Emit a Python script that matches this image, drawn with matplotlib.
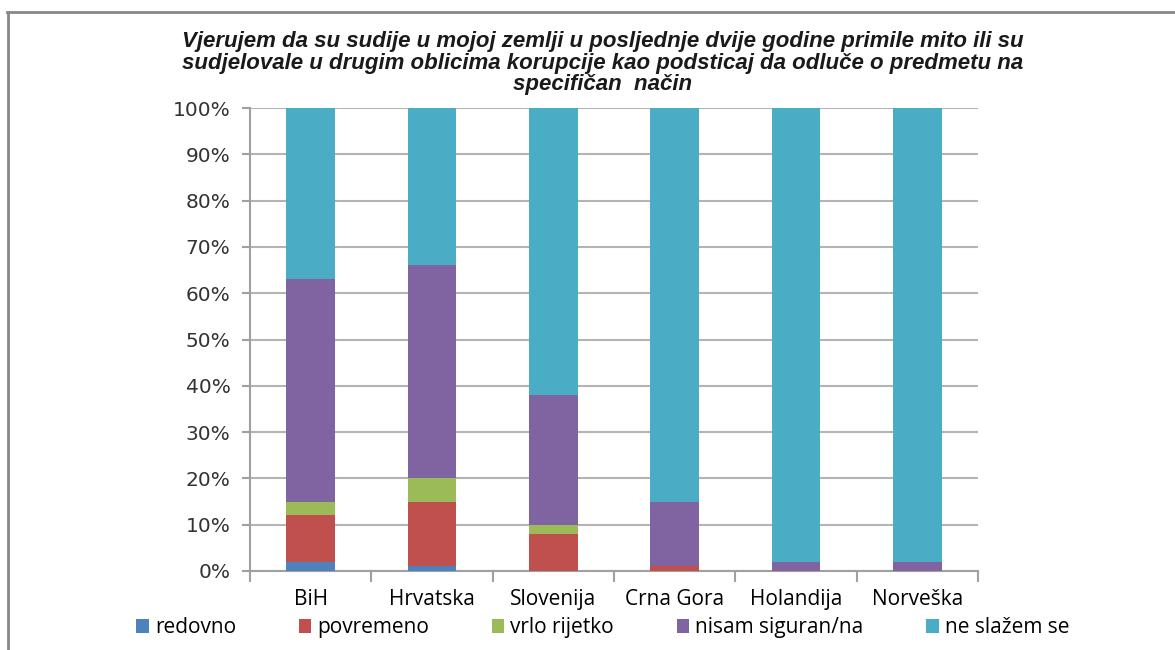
import numpy as np
import matplotlib
matplotlib.use('Agg')
import matplotlib.pyplot as plt
from matplotlib.lines import Line2D
from matplotlib.ticker import FixedLocator, PercentFormatter

# data (percent)
countries = ['BiH', 'Hrvatska', 'Slovenija', 'Crna Gora', 'Holandija', 'Norveška']
series = ['redovno', 'povremeno', 'vrlo rijetko', 'nisam siguran/na', 'ne slažem se']
redovno = [2, 1, 0, 0, 0, 0]
povremeno = [10, 14, 8, 1, 0, 0]
vrlo_rijetko = [3, 5, 2, 0, 0, 0]
nisam_siguran = [48, 46, 28, 14, 2, 2]
ne_slazem = [37, 34, 62, 85, 98, 98]
colors = ['#4F81BD', '#C0504D', '#9BBB59', '#8064A2', '#4BACC6']

title = ('Vjerujem da su sudije u mojoj zemlji u posljednje dvije godine primile mito ili su\n'
         'sudjelovale u drugim oblicima korupcije kao podsticaj da odluče o predmetu na\n'
         'specifičan  način')

fig = plt.figure(figsize=(11.75, 6.5), dpi=100)
ax = fig.add_axes([250/1175, 1-571/650, (978-250)/1175, (571-108)/650])

x = np.arange(len(countries))
bottom = np.zeros(len(countries))
for name, vals, c in zip(series, [redovno, povremeno, vrlo_rijetko, nisam_siguran, ne_slazem], colors):
    vals = np.array(vals, dtype=float)
    ax.bar(x, vals, 0.4, bottom=bottom, color=c, label=name, zorder=3)
    bottom += vals

ax.set_xlim(-0.5, len(countries) - 0.5)
ax.set_ylim(0, 100)
ax.yaxis.set_major_locator(FixedLocator(np.arange(0, 101, 10)))
ax.yaxis.set_major_formatter(PercentFormatter(decimals=0))
ax.grid(axis='y', color='#B4B4B4', lw=1.5, zorder=0)

ax.set_xticks(x)
ax.set_xticklabels(countries, fontsize=15, family='Open Sans')
ax.xaxis.set_minor_locator(FixedLocator(np.arange(-0.5, len(countries), 1)))
ax.tick_params(axis='x', which='major', length=0, pad=13)
ax.tick_params(axis='x', which='minor', length=8, width=1.5, color='#A0A0A0')
ax.tick_params(axis='y', length=6, width=1.5, color='#A0A0A0', labelsize=14.5, pad=8)
for lab in ax.get_yticklabels():
    lab.set_color('#333333')

for s in ['top', 'right']:
    ax.spines[s].set_visible(False)
for s in ['left', 'bottom']:
    ax.spines[s].set_color('#A0A0A0')
    ax.spines[s].set_linewidth(1.5)

fig.text(0.513, 0.903, title, ha='center', va='center', multialignment='center',
         fontsize=16, fontweight='bold', fontstyle='italic', family='Liberation Sans',
         linespacing=1.05, color='#1a1a1a')

ax.legend(loc='center', bbox_to_anchor=(0.513, 0.034), bbox_transform=fig.transFigure,
          ncol=5, frameon=False, prop={'family': 'Open Sans', 'size': 15},
          handlelength=0.6, handleheight=0.6, handletextpad=0.3, columnspacing=3.0)

# outer frame (left and top edge)
fig.add_artist(Line2D([7.5/1175, 7.5/1175], [0, 1-12/650], color='#888888', lw=2))
fig.add_artist(Line2D([7/1175, 1], [1-12/650, 1-12/650], color='#888888', lw=2))

fig.savefig('out.png', dpi=100)
